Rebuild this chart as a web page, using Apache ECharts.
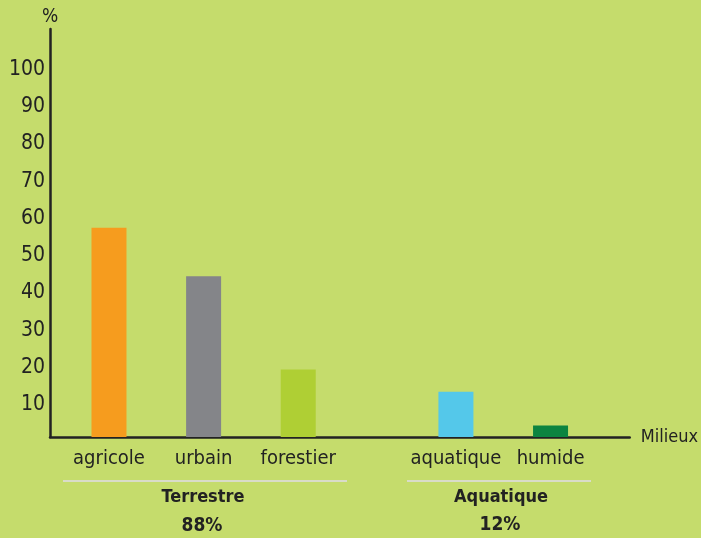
<!DOCTYPE html>
<html style="height: 100%">
<head>
    <meta charset="utf-8">
</head>
<body style="height: 100%; margin: 0; background: #c5dc6c">
<div id="container" style="width: 701px; height: 538px"></div>
<script type="text/javascript" src="https://cdn.jsdelivr.net/npm/echarts@6/dist/echarts.min.js"></script>
<script type="text/javascript">
    // milieux et valeurs (%)
    var categories = ['agricole', 'urbain', 'forestier', 'aquatique', 'humide'];
    var values = [57.5, 44.5, 19.5, 13.5, 4.5];
    var colors = ['#f69c1e', '#848589', '#afcf34', '#54c8ea', '#0c8440'];
    var yTicks = [10, 20, 30, 40, 50, 60, 70, 80, 90, 100];
    var groups = ['Terrestre', 'Aquatique'];
    var groupShares = ['88%', '12%'];

    // slot of each bar on the x axis (gap between the two groups)
    var slots = [0, 3, 6, 11, 14];
    var font = '"DejaVu Sans Condensed", "Liberation Sans", sans-serif';

    var myChart = echarts.init(document.getElementById('container'));

    var option = {
        backgroundColor: '#c5dc6c',
        animation: false,
        grid: {left: 50, right: 70, top: 29, bottom: 101},
        xAxis: {
            type: 'value',
            min: -1.87,
            max: 16.51,
            name: 'Milieux',
            nameLocation: 'end',
            nameGap: 11,
            nameTextStyle: {color: '#222', fontSize: 18, fontFamily: font},
            axisLine: {show: true, onZero: false, lineStyle: {color: '#222', width: 2.5}},
            axisTick: {show: false},
            splitLine: {show: false},
            axisLabel: {
                customValues: slots,
                margin: 12,
                color: '#222',
                fontSize: 20,
                fontFamily: font,
                formatter: function (v) {
                    return categories[slots.indexOf(v)] || '';
                }
            }
        },
        yAxis: {
            type: 'value',
            min: 1.4,
            max: 110.8,
            name: '%',
            nameLocation: 'end',
            nameGap: 2,
            nameTextStyle: {color: '#222', fontSize: 19, fontFamily: font, align: 'center'},
            axisLine: {show: true, onZero: false, lineStyle: {color: '#222', width: 2.5}},
            axisTick: {show: false},
            splitLine: {show: false},
            axisLabel: {
                customValues: yTicks,
                margin: 5,
                color: '#222',
                fontSize: 21,
                fontFamily: font
            }
        },
        series: [{
            type: 'bar',
            barWidth: 35,
            clip: true,
            data: values.map(function (v, i) {
                return {value: [slots[i], v], itemStyle: {color: colors[i]}};
            })
        }],
        graphic: [
            {type: 'line', shape: {x1: 63, y1: 481, x2: 347, y2: 481}, style: {stroke: '#d9dcc9', lineWidth: 2}},
            {type: 'line', shape: {x1: 407, y1: 481, x2: 591, y2: 481}, style: {stroke: '#d9dcc9', lineWidth: 2}},
            {type: 'text', x: 203, y: 497, style: {text: groups[0], fill: '#222', font: 'bold 18px ' + font, textAlign: 'center', textVerticalAlign: 'middle'}},
            {type: 'text', x: 202, y: 526, style: {text: groupShares[0], fill: '#222', font: 'bold 19px ' + font, textAlign: 'center', textVerticalAlign: 'middle'}},
            {type: 'text', x: 501, y: 497, style: {text: groups[1], fill: '#222', font: 'bold 18px ' + font, textAlign: 'center', textVerticalAlign: 'middle'}},
            {type: 'text', x: 500, y: 525, style: {text: groupShares[1], fill: '#222', font: 'bold 19px ' + font, textAlign: 'center', textVerticalAlign: 'middle'}}
        ]
    };

    myChart.setOption(option);
</script>
</body>
</html>
